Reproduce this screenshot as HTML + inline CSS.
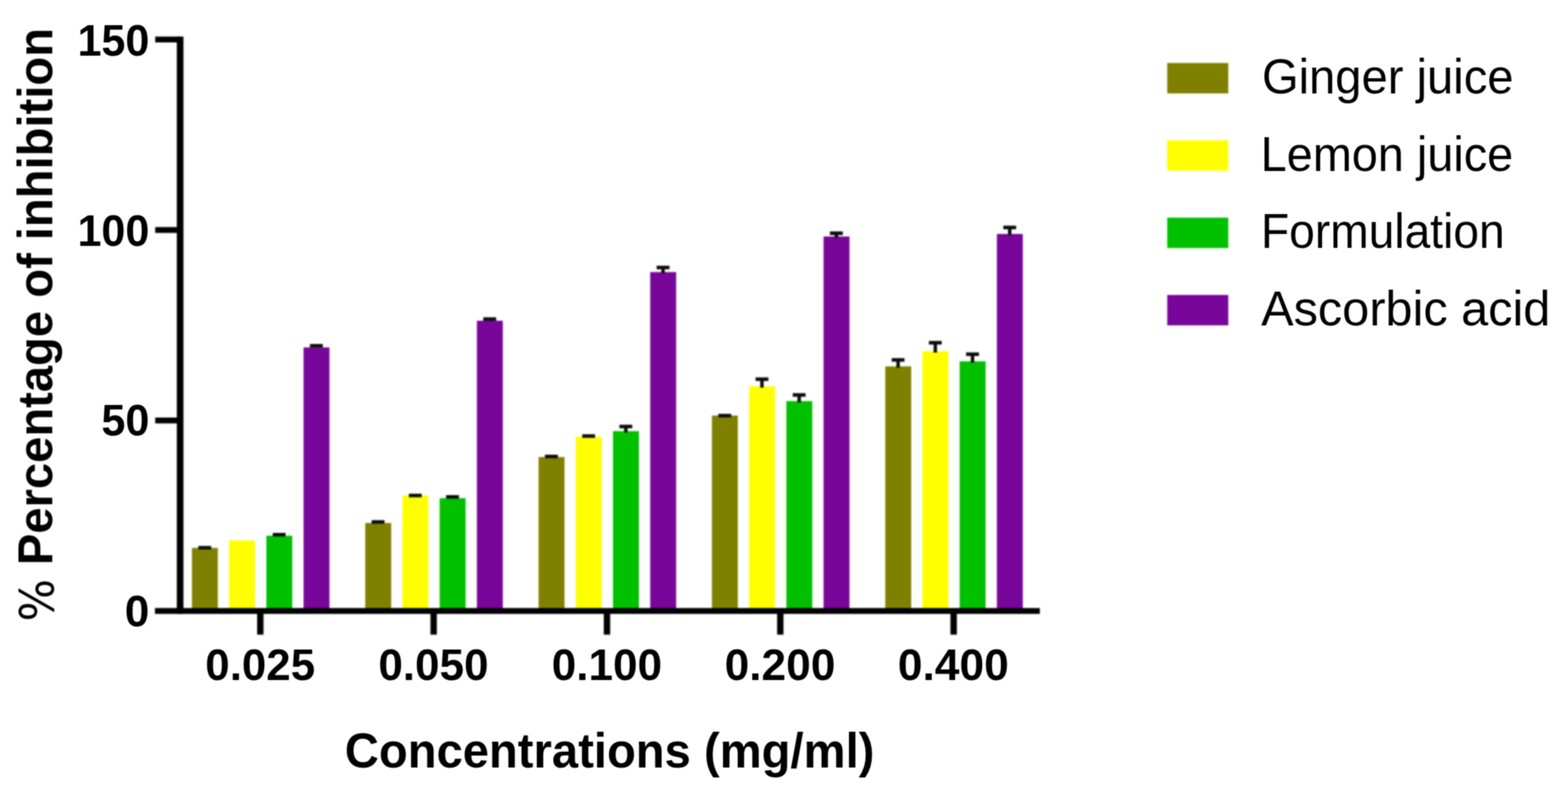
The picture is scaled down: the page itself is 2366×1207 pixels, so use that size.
<!DOCTYPE html>
<html lang="en"><head><meta charset="utf-8"><title>Percentage of inhibition vs concentration</title>
<style>
html,body{margin:0;padding:0;background:#fff;}
body{width:2366px;height:1207px;overflow:hidden;}
svg{display:block;}
text{font-family:"Liberation Sans",sans-serif;fill:#000;white-space:pre;}
.b{font-weight:bold;}
</style></head><body>
<svg width="2366" height="1207" viewBox="0 0 2366 1207">
<rect x="-20" y="-20" width="2406" height="1247" fill="#fff"/>

<defs><filter id="soft" color-interpolation-filters="sRGB" filterUnits="userSpaceOnUse" x="-20" y="-20" width="2406" height="1247"><feGaussianBlur stdDeviation="0.8"/></filter><filter id="softer" color-interpolation-filters="sRGB" filterUnits="userSpaceOnUse" x="-20" y="-20" width="2406" height="1247"><feConvolveMatrix order="3" kernelMatrix="0.25 0.5 0.25 0.5 1 0.5 0.25 0.5 0.25" edgeMode="duplicate"/></filter></defs>
<g id="shapes" filter="url(#soft)">
<rect x="-20" y="-20" width="2406" height="1247" fill="#fff"/>
<g id="bars">
<rect x="289.6" y="826.6" width="39.1" height="91.8" fill="#808000"/>
<rect x="345.75" y="815.4" width="39.1" height="103" fill="#ffff00"/>
<rect x="401.9" y="808.3" width="39.1" height="110.1" fill="#00c000"/>
<rect x="458.05" y="524.2" width="39.1" height="394.2" fill="#78069a"/>
<rect x="551.15" y="789.1" width="39.1" height="129.3" fill="#808000"/>
<rect x="607.3" y="747.5" width="39.1" height="170.9" fill="#ffff00"/>
<rect x="663.45" y="751.6" width="39.1" height="166.8" fill="#00c000"/>
<rect x="719.6" y="483.9" width="39.1" height="434.5" fill="#78069a"/>
<rect x="812.7" y="689.6" width="39.1" height="228.8" fill="#808000"/>
<rect x="868.85" y="659.1" width="39.1" height="259.3" fill="#ffff00"/>
<rect x="925" y="650.5" width="39.1" height="267.9" fill="#00c000"/>
<rect x="981.15" y="410.5" width="39.1" height="507.9" fill="#78069a"/>
<rect x="1074.25" y="627" width="39.1" height="291.4" fill="#808000"/>
<rect x="1130.4" y="582.9" width="39.1" height="335.5" fill="#ffff00"/>
<rect x="1186.55" y="605.2" width="39.1" height="313.2" fill="#00c000"/>
<rect x="1242.7" y="356.8" width="39.1" height="561.6" fill="#78069a"/>
<rect x="1335.8" y="552.8" width="39.1" height="365.6" fill="#808000"/>
<rect x="1391.95" y="530" width="39.1" height="388.4" fill="#ffff00"/>
<rect x="1448.1" y="545.2" width="39.1" height="373.2" fill="#00c000"/>
<rect x="1504.25" y="353" width="39.1" height="565.4" fill="#78069a"/>
</g>
<g id="errorbars" fill="#0d0d0d">
<rect x="299.25" y="823.7" width="19.4" height="5.4"/>
<rect x="411.55" y="804" width="19.4" height="5.4"/>
<rect x="467.7" y="519" width="19.4" height="5.4"/>
<rect x="560.8" y="784.8" width="19.4" height="5.4"/>
<rect x="616.95" y="744.9" width="19.4" height="5.4"/>
<rect x="673.1" y="747" width="19.4" height="5.4"/>
<rect x="729.25" y="478.7" width="19.4" height="5.4"/>
<rect x="822.35" y="686" width="19.4" height="5.4"/>
<rect x="878.5" y="655.2" width="19.4" height="5.4"/>
<rect x="934.65" y="640.8" width="19.4" height="5.4"/>
<rect x="941.75" y="643.5" width="5.2" height="9"/>
<rect x="990.8" y="400.9" width="19.4" height="5.4"/>
<rect x="997.9" y="403.6" width="5.2" height="8.9"/>
<rect x="1083.9" y="624.4" width="19.4" height="5.4"/>
<rect x="1140.05" y="569.4" width="19.4" height="5.4"/>
<rect x="1147.15" y="572.1" width="5.2" height="12.8"/>
<rect x="1196.2" y="593.2" width="19.4" height="5.4"/>
<rect x="1203.3" y="595.9" width="5.2" height="11.3"/>
<rect x="1252.35" y="349.2" width="19.4" height="5.4"/>
<rect x="1259.45" y="351.9" width="5.2" height="6.9"/>
<rect x="1345.45" y="540.3" width="19.4" height="5.4"/>
<rect x="1352.55" y="543" width="5.2" height="11.8"/>
<rect x="1401.6" y="514.4" width="19.4" height="5.4"/>
<rect x="1408.7" y="517.1" width="5.2" height="14.9"/>
<rect x="1457.75" y="531.7" width="19.4" height="5.4"/>
<rect x="1464.85" y="534.4" width="5.2" height="12.8"/>
<rect x="1513.9" y="340.5" width="19.4" height="5.4"/>
<rect x="1521" y="343.2" width="5.2" height="11.8"/>
</g>
<g id="axes" fill="#000">
<rect x="266.8" y="55.2" width="10" height="871"/>
<rect x="233.8" y="917.4" width="1335.2" height="8.8"/>
<rect x="234.2" y="630" width="38" height="8.8"/>
<rect x="234.2" y="342.6" width="38" height="8.8"/>
<rect x="234.2" y="55.2" width="38" height="8.8"/>
<rect x="388" y="921.8" width="9.6" height="35.7"/>
<rect x="649.55" y="921.8" width="9.6" height="35.7"/>
<rect x="911.1" y="921.8" width="9.6" height="35.7"/>
<rect x="1172.65" y="921.8" width="9.6" height="35.7"/>
<rect x="1434.2" y="921.8" width="9.6" height="35.7"/>
</g>
<g id="swatches">
<rect x="1761.3" y="95.1" width="92.1" height="45.8" fill="#808000"/>
<rect x="1761.3" y="211.75" width="92.1" height="45.8" fill="#ffff00"/>
<rect x="1761.3" y="328.4" width="92.1" height="45.8" fill="#00c000"/>
<rect x="1761.3" y="445.05" width="92.1" height="45.8" fill="#78069a"/>
</g>
</g>
<g id="labels" filter="url(#softer)">
<g id="yticklabels">
<text class="b" transform="translate(116.95 83.58) scale(0.9991 1.025)" font-size="65.1">150</text>
<text class="b" transform="translate(116.94 370.6) scale(0.9991 1.025)" font-size="65.1">100</text>
<text class="b" transform="translate(152.99 657.48) scale(1.0002 1.025)" font-size="65.1">50</text>
<text class="b" transform="translate(188.15 944.8) scale(1.0255 1.025)" font-size="65.1">0</text>
</g>
<g id="xticklabels">
<text class="b" transform="translate(309.86 1026.09) scale(1.0165 1.035)" font-size="65.1">0.025</text>
<text class="b" transform="translate(570.91 1026.08) scale(1.0206 1.035)" font-size="65.1">0.050</text>
<text class="b" transform="translate(832.43 1026.1) scale(1.0233 1.035)" font-size="65.1">0.100</text>
<text class="b" transform="translate(1093.42 1026.11) scale(1.0259 1.035)" font-size="65.1">0.200</text>
<text class="b" transform="translate(1354.78 1026.13) scale(1.0286 1.035)" font-size="65.1">0.400</text>
</g>
<g id="xtitle">
<text class="b" transform="translate(520.22 1157.89) scale(1.0017 1.045)" font-size="71.1">Concentrations (mg/ml)</text>
</g>
<g id="ytitle">
<text class="b" transform="translate(79.15 937.66) rotate(-90) scale(1.0009 1.035)" font-size="71.1"><tspan style="font-family:'DejaVu Sans','Liberation Sans',sans-serif;font-weight:normal" stroke="none" font-size="69.31" dy="1.7" textLength="64.09" lengthAdjust="spacingAndGlyphs">%</tspan><tspan dy="-1.7" dx="1.11"> </tspan>Percentage of inhibition</text>
</g>
<g id="legend">
<text transform="translate(1904.14 141.3) scale(1.0009 1.045)" font-size="71.1">Ginger juice</text>
<text transform="translate(1902.27 257.64) scale(0.9943 1.045)" font-size="71.1">Lemon juice</text>
<text transform="translate(1902.77 374.29) scale(0.9793 1.045)" font-size="71.1">Formulation</text>
<text transform="translate(1902.97 490.58) scale(1.0324 1.045)" font-size="71.1">Ascorbic acid</text>
</g>
</g>
</svg></body></html>
